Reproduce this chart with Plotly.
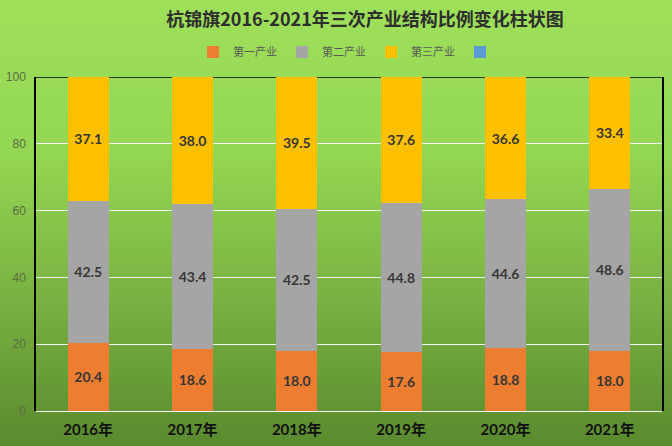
import base64
import plotly.graph_objects as go

# -----------------------------
# Data
# -----------------------------
years = ['2016年', '2017年', '2018年', '2019年', '2020年', '2021年']
primary = [20.4, 18.6, 18.0, 17.6, 18.8, 18.0]
secondary = [42.5, 43.4, 42.5, 44.8, 44.6, 48.6]
tertiary = [37.1, 38.0, 39.5, 37.6, 36.6, 33.4]
blank = [None, None, None, None, None, None]

series_names = ['第一产业', '第二产业', '第三产业', '']
series_colors = ['#ED7D31', '#A5A5A5', '#FFC000', '#5B9BD5']

y_ticks = [0, 20, 40, 60, 80, 100]

# green gradient background as an svg image
svg = '''<svg xmlns="http://www.w3.org/2000/svg" width="10" height="100" preserveAspectRatio="none">
<defs><linearGradient id="g" x1="0" y1="0" x2="0" y2="1">
<stop offset="0" stop-color="#9EE05A"/>
<stop offset="0.35" stop-color="#93D652"/>
<stop offset="0.7" stop-color="#76AE40"/>
<stop offset="1" stop-color="#5A8A2E"/>
</linearGradient></defs>
<rect width="10" height="100" fill="url(#g)"/></svg>'''
bg_src = 'data:image/svg+xml;base64,' + base64.b64encode(svg.encode()).decode()

W, H = 672, 446
ML, MR, MT, MB = 36, 10, 77, 35
pw, ph = W - ML - MR, H - MT - MB

fig = go.Figure()
for vals, name, color in zip([primary, secondary, tertiary, blank], series_names, series_colors):
    fig.add_trace(go.Bar(
        x=years, y=vals, name=name,
        marker=dict(color=color, line=dict(width=0)),
        text=[f'<b>{v:.1f}</b>' if v is not None else '' for v in vals],
        textposition='inside', insidetextanchor='middle',
        textfont=dict(family='Lato, Noto Sans CJK SC', size=14, color='#363636'),
        hoverinfo='x+y+name',
    ))

fig.update_layout(
    barmode='stack',
    bargap=0.61,
    width=W, height=H,
    margin=dict(l=ML, r=MR, t=MT, b=MB, autoexpand=False),
    paper_bgcolor='rgba(0,0,0,0)',
    plot_bgcolor='rgba(0,0,0,0)',
    title=dict(
        text='<b>杭锦旗2016-2021年三次产业结构比例变化柱状图</b>',
        x=365 / W, xref='container', xanchor='center',
        y=1 - 20 / H, yref='container', yanchor='middle',
        font=dict(family='Noto Sans CJK SC', size=18, color='#2E2E2E'),
    ),
    legend=dict(
        orientation='h', x=0.5, xanchor='center',
        y=1 + 25 / ph, yanchor='middle',
        font=dict(family='Noto Sans CJK SC', size=11, color='#595959'),
        itemwidth=30, traceorder='normal',
        bgcolor='rgba(0,0,0,0)',
    ),
    xaxis=dict(
        showgrid=False, showline=False, ticks='', automargin=False,
        tickfont=dict(family='Lato, Noto Sans CJK SC', size=15, color='#111111', weight='bold'),
        ticklabelstandoff=8,
    ),
    yaxis=dict(
        range=[0, 100], tickvals=y_ticks, automargin=False,
        showgrid=True, gridcolor='#F2F2F2', gridwidth=1,
        zeroline=True, zerolinecolor='#F2F2F2', zerolinewidth=1,
        showline=True, linecolor='#000000', linewidth=1.5, mirror=True,
        tickfont=dict(family='Liberation Sans', size=12, color='#5A6B45'),
        ticks='', ticklabelstandoff=6,
    ),
    images=[dict(
        source=bg_src, xref='paper', yref='paper',
        x=-ML / pw, y=1 + MT / ph, sizex=W / pw, sizey=H / ph,
        xanchor='left', yanchor='top', sizing='stretch', layer='below',
    )],
    shapes=[dict(
        type='line', xref='paper', yref='y', x0=0, x1=1, y0=100, y1=100,
        line=dict(color='#000000', width=1.5), layer='below',
    )],
    showlegend=True,
)

# drop the default page margin so the figure sits at the window corner
fig.write_html('out.html', config={'displayModeBar': False},
               post_script="document.body.style.margin='0';")
